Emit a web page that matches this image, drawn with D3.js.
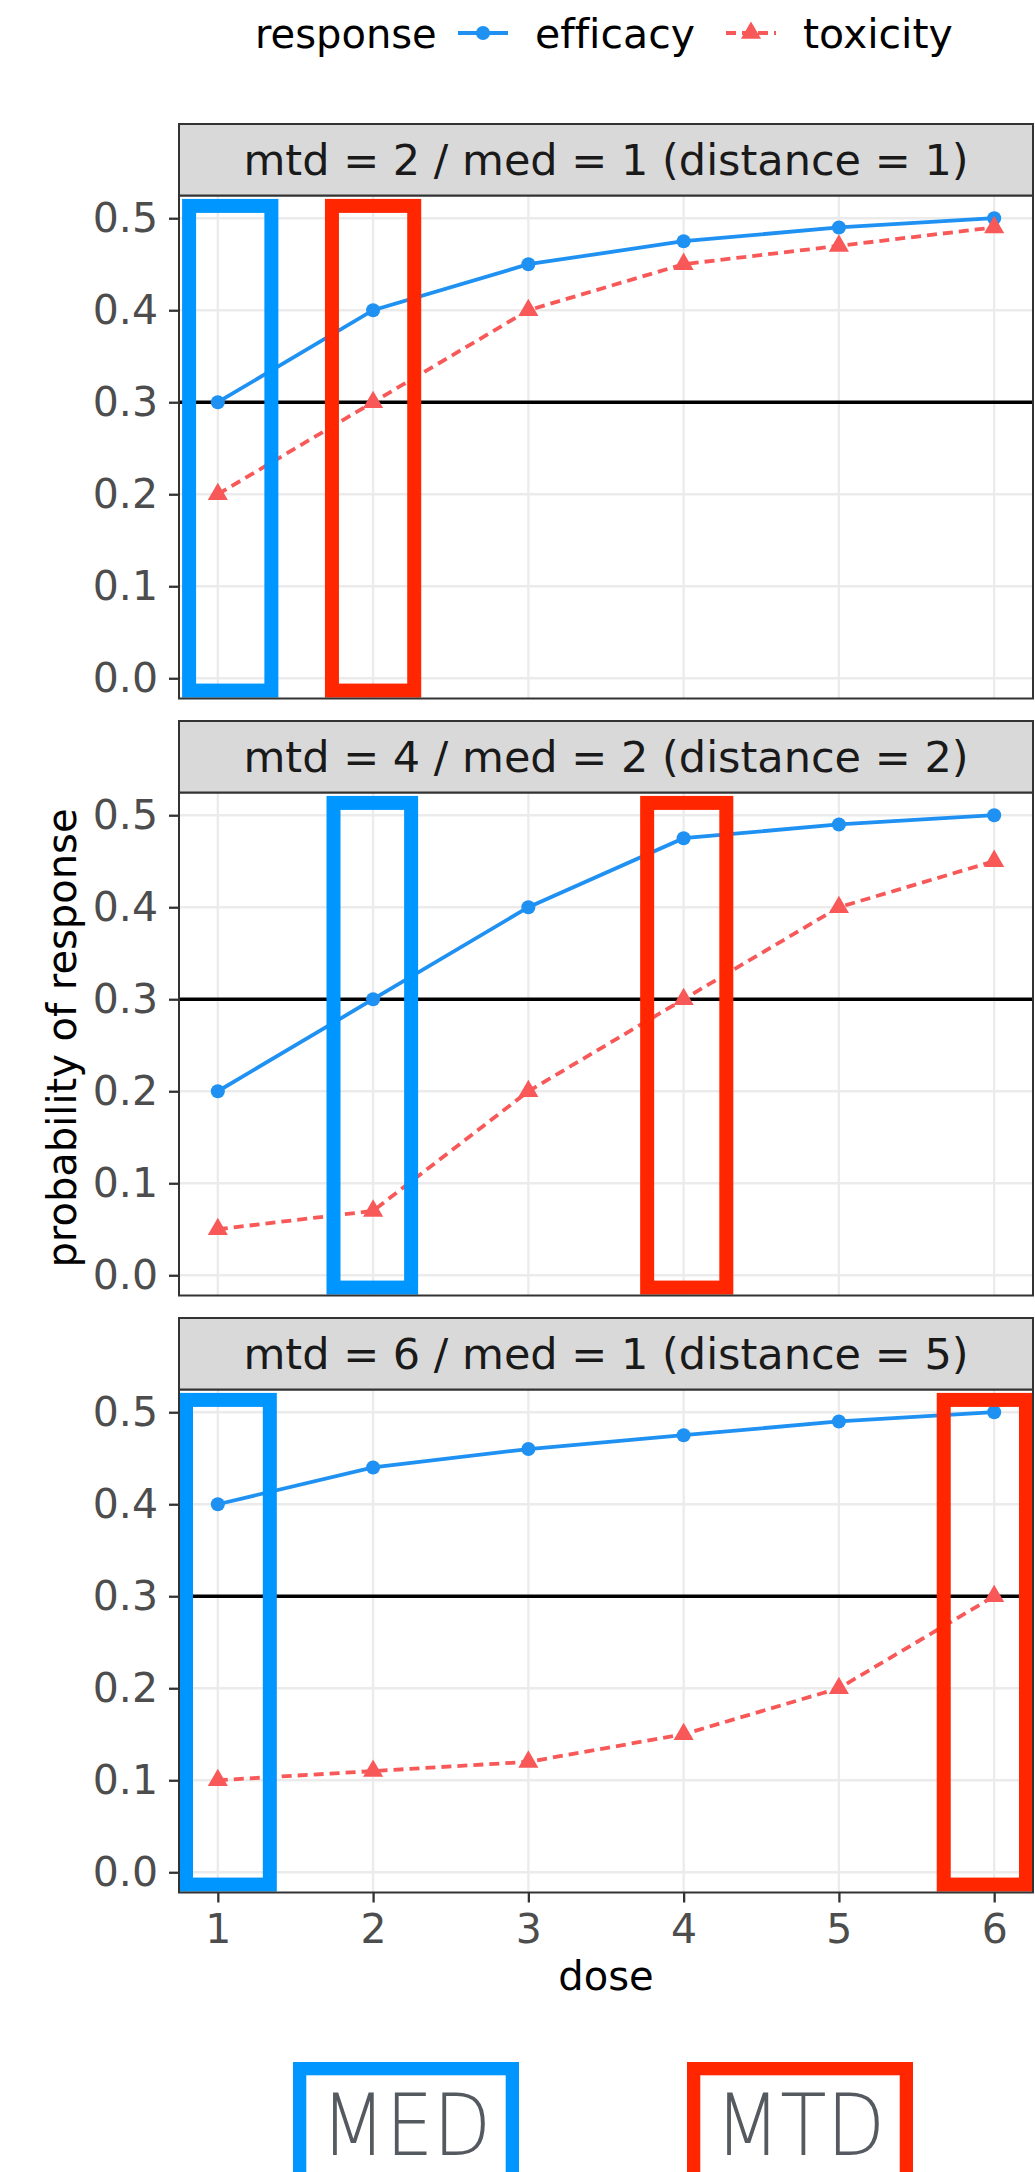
<!DOCTYPE html>
<html>
<head>
<meta charset="utf-8">
<script src="https://cdn.jsdelivr.net/npm/d3@7"></script>
<style>
  body { margin: 0; background: #fff; }
  svg text { font-family: "DejaVu Sans", sans-serif; font-variant-ligatures: none; }
</style>
</head>
<body>
<svg id="chart" width="1035" height="2172"></svg>
<script>
// ---- data ----
let doses = [1, 2, 3, 4, 5, 6];
let yTicks = [0, 0.1, 0.2, 0.3, 0.4, 0.5];
let panelTitles = ["mtd = 2 / med = 1 (distance = 1)",
                   "mtd = 4 / med = 2 (distance = 2)",
                   "mtd = 6 / med = 1 (distance = 5)"];
let efficacy = [
  [0.30, 0.40, 0.45, 0.475, 0.49, 0.50],
  [0.20, 0.30, 0.40, 0.475, 0.49, 0.50],
  [0.40, 0.44, 0.46, 0.475, 0.49, 0.50]
];
let toxicity = [
  [0.20, 0.30, 0.40, 0.45, 0.47, 0.49],
  [0.05, 0.07, 0.20, 0.30, 0.40, 0.45],
  [0.10, 0.11, 0.12, 0.15, 0.20, 0.30]
];
let threshold = 0.3;
// highlighted dose windows (dose units)
let medLo = [0.77, 1.70, 0.75];
let medHi = [1.39, 2.29, 1.38];
let mtdLo = [1.69, 3.72, 5.63];
let mtdHi = [2.31, 4.32, 6.25];
let seriesNames = ["efficacy", "toxicity"];
let keyLabels = ["MED", "MTD"];

// ---- layout / style ----
let col = { eff: "#1F91F2", tox: "#F85858", med: "#0096FF", mtd: "#FF2600" };
let left = 179, right = 1033;
let stripH = 71.5, panelH = 503, panelStep = 597, firstTop = 124;
let lw = 3.8, ptR = 7, triSize = 175;

let x = d3.scaleLinear().domain([0.75, 6.25]).range([left, right]);
let y = d3.scaleLinear().domain([-0.022, 0.5247]).range([panelH, 0]);

let svg = d3.select("svg#chart");

function drawPanel(i) {
  let top = firstTop + panelStep * i;
  let g = svg.append("g").attr("transform", "translate(0," + (top + stripH) + ")");

  // grid
  g.selectAll("line.gy").data(yTicks).enter().append("line")
    .attr("x1", left).attr("x2", right)
    .attr("y1", function(d) { return y(d); }).attr("y2", function(d) { return y(d); })
    .attr("stroke", "#EBEBEB").attr("stroke-width", 2.3);
  g.selectAll("line.gx").data(doses).enter().append("line")
    .attr("x1", function(d) { return x(d); }).attr("x2", function(d) { return x(d); })
    .attr("y1", 0).attr("y2", panelH)
    .attr("stroke", "#EBEBEB").attr("stroke-width", 2.3);

  // threshold
  g.append("line")
    .attr("x1", left).attr("x2", right)
    .attr("y1", y(threshold)).attr("y2", y(threshold))
    .attr("stroke", "#000").attr("stroke-width", 3.5);

  let line = d3.line()
    .x(function(d, j) { return x(doses[j]); })
    .y(function(d) { return y(d); });

  g.append("path").attr("d", line(toxicity[i]))
    .attr("fill", "none").attr("stroke", col.tox).attr("stroke-width", lw)
    .attr("stroke-dasharray", "10,6");
  g.append("path").attr("d", line(efficacy[i]))
    .attr("fill", "none").attr("stroke", col.eff).attr("stroke-width", lw);

  g.selectAll("circle").data(efficacy[i]).enter().append("circle")
    .attr("cx", function(d, j) { return x(doses[j]); })
    .attr("cy", function(d) { return y(d); })
    .attr("r", ptR).attr("fill", col.eff);

  g.selectAll("path.tri").data(toxicity[i]).enter().append("path")
    .attr("class", "tri")
    .attr("d", d3.symbol().type(d3.symbolTriangle).size(triSize))
    .attr("transform", function(d, j) { return "translate(" + x(doses[j]) + "," + y(d) + ")"; })
    .attr("fill", col.tox);

  // highlight boxes
  let sw = 14;
  let boxes = [[medLo[i], medHi[i], col.med], [mtdLo[i], mtdHi[i], col.mtd]];
  g.selectAll("rect.box").data(boxes).enter().append("rect")
    .attr("class", "box")
    .attr("x", function(d) { return x(d[0]) + sw / 2; })
    .attr("width", function(d) { return x(d[1]) - x(d[0]) - sw; })
    .attr("y", y(0.521) + sw / 2)
    .attr("height", y(-0.021) - y(0.521) - sw)
    .attr("fill", "none").attr("stroke", function(d) { return d[2]; })
    .attr("stroke-width", sw);

  // border
  g.append("rect").attr("x", left).attr("y", 0)
    .attr("width", right - left).attr("height", panelH)
    .attr("fill", "none").attr("stroke", "#333").attr("stroke-width", 2);

  // strip
  svg.append("rect").attr("x", left).attr("y", top)
    .attr("width", right - left).attr("height", stripH)
    .attr("fill", "#D9D9D9").attr("stroke", "#333").attr("stroke-width", 2);
  svg.append("text").attr("x", (left + right) / 2).attr("y", top + stripH / 2)
    .attr("dy", "0.35em").attr("text-anchor", "middle")
    .attr("font-size", 43).attr("fill", "#1A1A1A")
    .text(panelTitles[i]);

  // y axis
  let ax = g.append("g").attr("transform", "translate(" + left + ",0)")
    .call(d3.axisLeft(y).tickValues(yTicks).tickFormat(d3.format(".1f"))
           .tickSize(10).tickPadding(11));
  styleAxis(ax);

  if (i === 2) {
    let bx = g.append("g").attr("transform", "translate(0," + panelH + ")")
      .call(d3.axisBottom(x).tickValues(doses).tickFormat(d3.format("d"))
             .tickSize(10).tickPadding(11));
    styleAxis(bx);
  }
}

function styleAxis(ax) {
  ax.select(".domain").remove();
  ax.selectAll(".tick line").attr("stroke", "#333").attr("stroke-width", 2.3);
  ax.selectAll(".tick text").attr("font-size", 41).attr("fill", "#4D4D4D")
    .attr("font-family", "DejaVu Sans");
}

for (let i = 0; i < 3; i++) drawPanel(i);

// axis titles
svg.append("text").attr("x", (left + right) / 2).attr("y", 1990)
  .attr("text-anchor", "middle").attr("font-size", 40).text("dose");
svg.append("text").attr("transform", "translate(76,1038) rotate(-90)")
  .attr("text-anchor", "middle").attr("font-size", 40).text("probability of response");

// legend on top
let leg = svg.append("g");
leg.append("text").attr("x", 255).attr("y", 48).attr("font-size", 40).text("response");
let keyX = d3.scalePoint().domain(seriesNames).range([458, 726]);
seriesNames.forEach(function(s) {
  let k = leg.append("g").attr("transform", "translate(" + keyX(s) + ",33)");
  k.append("line").attr("x1", 0).attr("x2", 50)
    .attr("stroke", s === "efficacy" ? col.eff : col.tox).attr("stroke-width", lw)
    .attr("stroke-dasharray", s === "efficacy" ? null : "10,6");
  if (s === "efficacy") {
    k.append("circle").attr("cx", 25).attr("r", ptR).attr("fill", col.eff);
  } else {
    k.append("path").attr("d", d3.symbol().type(d3.symbolTriangle).size(triSize))
      .attr("transform", "translate(25,0)").attr("fill", col.tox);
  }
  k.append("text").attr("x", 77).attr("y", 15).attr("font-size", 41).text(s);
});

// MED / MTD keys at the bottom
let keyPos = d3.scalePoint().domain(keyLabels).range([406, 800]);
let keyCol = { MED: col.med, MTD: col.mtd };
let kw = 13.3;
keyLabels.forEach(function(lab) {
  let cx = keyPos(lab);
  svg.append("rect")
    .attr("x", cx - 113 + kw / 2).attr("y", 2062 + kw / 2)
    .attr("width", 226 - kw).attr("height", 200)
    .attr("fill", "none").attr("stroke", keyCol[lab]).attr("stroke-width", kw);
  svg.append("text").attr("x", cx).attr("y", 2155)
    .attr("text-anchor", "middle")
    .attr("font-family", "Lato, 'Open Sans', sans-serif").attr("font-weight", 300)
    .attr("font-size", 86).attr("fill", "#555A60")
    .attr("textLength", 170).attr("lengthAdjust", "spacingAndGlyphs")
    .text(lab);
});
</script>
</body>
</html>
